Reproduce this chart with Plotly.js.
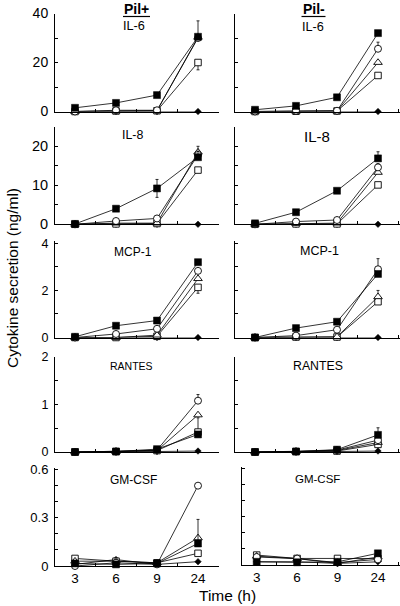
<!DOCTYPE html>
<html>
<head>
<meta charset="utf-8">
<script src="https://cdn.plot.ly/plotly-3.0.1.min.js"></script>
<style>html,body{margin:0;padding:0;background:#fff;}#chart{width:400px;height:606px;}</style>
</head>
<body>
<div id="chart"></div>
<script>
// ---------- DATA ----------
const times = ['3', '6', '9', '24'];
const columnLabels = ['Pil+', 'Pil-'];
const cytokines = ['IL-6', 'IL-8', 'MCP-1', 'RANTES', 'GM-CSF'];
const yTickStep = [20, 10, 2, 1, 0.3];
const yMinorStep = [10, 5, 1, 0.5, 0.1];
const yTop = [40, 25, 4.1, 2, 0.61];
const xTitle = 'Time (h)';
const yTitle = 'Cytokine secretion (ng/ml)';

// series: sq = filled square, ci = open circle, tr = open triangle, os = open square, di = filled diamond
// IL-6
const il6Plus_sq = [1.5, 3.5, 6.7, 30.5];
const il6Plus_ci = [0, 0.5, 0.5, 30];
const il6Plus_tr = [0, 0.2, 0.3, 30.3];
const il6Plus_os = [0, 0.2, 0.3, 20];
const il6Plus_di = [0, 0, 0, 0];
const il6Minus_sq = [0.7, 2.3, 5.8, 32];
const il6Minus_ci = [0, 0.3, 0.3, 25.6];
const il6Minus_tr = [0, 0.1, 0.2, 20];
const il6Minus_os = [0, 0.1, 0.2, 14.7];
const il6Minus_di = [0, 0, 0, 0];
// IL-8
const il8Plus_sq = [0.1, 4.0, 9.2, 17.2];
const il8Plus_ci = [0, 0.85, 1.5, 17.8];
const il8Plus_tr = [0, 0.3, 0.3, 18.5];
const il8Plus_os = [0, 0.1, 0.2, 13.9];
const il8Plus_di = [0, 0, 0, 0];
const il8Minus_sq = [0.25, 3.1, 8.6, 16.9];
const il8Minus_ci = [0, 0.7, 1.1, 14.6];
const il8Minus_tr = [0, 0.2, 0.3, 13.3];
const il8Minus_os = [0, 0.1, 0.1, 10.1];
const il8Minus_di = [0, 0, 0, 0];
// MCP-1
const mcpPlus_sq = [0.03, 0.5, 0.72, 3.2];
const mcpPlus_ci = [0, 0.15, 0.37, 2.83];
const mcpPlus_tr = [0, 0, 0.1, 2.5];
const mcpPlus_os = [0, 0, 0.05, 2.13];
const mcpPlus_di = [0, 0, 0, 0];
const mcpMinus_sq = [0, 0.4, 0.67, 2.7];
const mcpMinus_ci = [0, 0.08, 0.33, 2.9];
const mcpMinus_tr = [0, 0.02, 0.03, 1.73];
const mcpMinus_os = [0, 0.02, 0.02, 1.52];
const mcpMinus_di = [0, 0, 0, 0];
// RANTES
const rantesPlus_sq = [0, 0.01, 0.06, 0.37];
const rantesPlus_ci = [0, 0.01, 0.04, 1.08];
const rantesPlus_tr = [0, 0.01, 0.03, 0.78];
const rantesPlus_os = [0, 0.01, 0.03, 0.42];
const rantesPlus_di = [0, 0, 0.01, 0.02];
const rantesMinus_sq = [0, 0.01, 0.05, 0.36];
const rantesMinus_ci = [0, 0.01, 0.04, 0.25];
const rantesMinus_tr = [0, 0.01, 0.03, 0.2];
const rantesMinus_os = [0, 0.01, 0.02, 0.16];
const rantesMinus_di = [0, 0, 0.01, 0.02];
// GM-CSF
const gmPlus_sq = [0.016, 0.01, 0.016, 0.14];
const gmPlus_ci = [0, 0.02, 0.01, 0.5];
const gmPlus_tr = [0.03, 0.03, 0.02, 0.175];
const gmPlus_os = [0.047, 0.03, 0.02, 0.079];
const gmPlus_di = [0.01, 0.04, 0.01, 0.027];
const gmMinus_sq = [0.02, 0.017, 0.02, 0.073];
const gmMinus_ci = [0.05, 0.04, 0.015, 0.035];
const gmMinus_tr = [0.055, 0.04, 0.01, 0.05];
const gmMinus_os = [0.062, 0.041, 0.041, 0.04];
const gmMinus_di = [0.02, 0.02, 0.01, 0.02];

// error bars (upper, lower)
const il6Plus_sq_errUp = [0, 0, 0, 6.5];
const il6Plus_os_errDown = [0, 0, 0, 3];
const il6Minus_ci_errUp = [0, 0, 0, 2.7];
const il8Plus_sq_errUp = [0, 0, 2.3, 2.8];
const il8Plus_sq_errDown = [0, 0, 2.3, 0];
const il8Minus_sq_errUp = [0, 0, 0, 1.7];
const il8Minus_ci_errUp = [0, 0, 0, 1.0];
const mcpPlus_sq_errUp = [0, 0, 0, 0.1];
const mcpPlus_os_errDown = [0, 0, 0, 0.25];
const mcpMinus_ci_errUp = [0, 0, 0, 0.45];
const mcpMinus_tr_errUp = [0, 0, 0, 0.27];
const rantesPlus_ci_errUp = [0, 0, 0, 0.13];
const rantesPlus_os_errUp = [0, 0, 0, 0.3];
const rantesMinus_sq_errUp = [0, 0, 0, 0.15];
const gmPlus_sq_errUp = [0, 0, 0, 0.15];

// ---------- PANEL ASSEMBLY ----------
const panelSeries = [
  [[il6Plus_di, il6Plus_os, il6Plus_tr, il6Plus_ci, il6Plus_sq], [il6Minus_di, il6Minus_os, il6Minus_tr, il6Minus_ci, il6Minus_sq]],
  [[il8Plus_di, il8Plus_os, il8Plus_tr, il8Plus_ci, il8Plus_sq], [il8Minus_di, il8Minus_os, il8Minus_tr, il8Minus_ci, il8Minus_sq]],
  [[mcpPlus_di, mcpPlus_os, mcpPlus_tr, mcpPlus_ci, mcpPlus_sq], [mcpMinus_di, mcpMinus_os, mcpMinus_tr, mcpMinus_ci, mcpMinus_sq]],
  [[rantesPlus_di, rantesPlus_os, rantesPlus_tr, rantesPlus_ci, rantesPlus_sq], [rantesMinus_di, rantesMinus_os, rantesMinus_tr, rantesMinus_ci, rantesMinus_sq]],
  [[gmPlus_di, gmPlus_os, gmPlus_tr, gmPlus_ci, gmPlus_sq], [gmMinus_di, gmMinus_os, gmMinus_tr, gmMinus_ci, gmMinus_sq]]
];
// errors keyed by row-col-seriesIndex -> [up, down]
const panelErrors = {
  '0-0-4': [il6Plus_sq_errUp, null], '0-0-1': [null, il6Plus_os_errDown],
  '0-1-3': [il6Minus_ci_errUp, null],
  '1-0-4': [il8Plus_sq_errUp, il8Plus_sq_errDown],
  '1-1-4': [il8Minus_sq_errUp, null], '1-1-3': [il8Minus_ci_errUp, null],
  '2-0-4': [mcpPlus_sq_errUp, null], '2-0-1': [null, mcpPlus_os_errDown],
  '2-1-3': [mcpMinus_ci_errUp, null], '2-1-2': [mcpMinus_tr_errUp, null],
  '3-0-3': [rantesPlus_ci_errUp, null], '3-0-1': [rantesPlus_os_errUp, null],
  '3-1-4': [rantesMinus_sq_errUp, null],
  '4-0-4': [gmPlus_sq_errUp, null]
};

const W = 400, H = 606;
const FONT = 'Arial, "Liberation Sans", Helvetica, sans-serif';
const markerStyles = [
  {symbol: 'diamond', size: 5, color: '#000', line: {color: '#000', width: 0.5}},
  {symbol: 'square', size: 6.5, color: '#fff', line: {color: '#000', width: 0.9}},
  {symbol: 'triangle-up', size: 7.5, color: '#fff', line: {color: '#000', width: 0.9}},
  {symbol: 'circle', size: 7, color: '#fff', line: {color: '#000', width: 0.9}},
  {symbol: 'square', size: 7, color: '#000', line: {color: '#000', width: 0.5}}
];
// pixel geometry of each row: [px of zero, px of top]
const rowPx = [[111.5, 13.5], [224.3, 126.8], [337.5, 241], [452, 357], [566, 468]];
const rowPxRight4 = [565, 466.7];
const colPx = [[55, 219], [235, 400]];
const yTickFont = [14, 14.5, 12.5, 12.5, 13];
const titleFont = [[12.7, 12.7], [12.4, 15], [12, 12.5], [10.5, 12.3], [12, 11.5]];
const titlePos = [[[134, 26], [313, 27]], [[132, 135], [317, 136]], [[133, 252], [319, 251]], [[131, 366], [318, 366]], [[133, 480], [317, 479]]];

const traces = [];
const layout = {
  width: W, height: H,
  margin: {l: 0, r: 0, t: 0, b: 0},
  paper_bgcolor: '#fff', plot_bgcolor: 'rgba(0,0,0,0)',
  showlegend: false,
  font: {family: FONT, color: '#000'},
  annotations: [], shapes: []
};

for (let r = 0; r < 5; r++) {
  for (let c = 0; c < 2; c++) {
    const idx = r * 2 + c + 1;
    const xa = 'x' + (idx === 1 ? '' : idx), ya = 'y' + (idx === 1 ? '' : idx);
    const xKey = 'xaxis' + (idx === 1 ? '' : idx), yKey = 'yaxis' + (idx === 1 ? '' : idx);
    let px = colPx[c].slice();
    let vy = rowPx[r];
    if (r === 4 && c === 1) { px = [242, 400]; vy = rowPxRight4; }
    const firstCat = c === 0 ? 75 : (r === 4 ? 256.7 : 255);
    const spacing = (r === 4 && c === 1) ? 40.4 : 41;
    const xr = [(px[0] - firstCat) / spacing, (px[1] - firstCat) / spacing];
    layout[xKey] = {
      domain: [px[0] / W, px[1] / W], anchor: ya, type: 'category',
      range: xr, showline: true, linecolor: '#000', linewidth: 1,
      ticks: 'inside', tickson: 'boundaries', ticklen: 3, tickcolor: '#000', tickwidth: 1,
      showticklabels: r === 4, tickfont: {size: 13.5, family: FONT, color: '#000'},
      showgrid: false, zeroline: false, fixedrange: true
    };
    const topVal = (r === 4 && c === 1) ? 0.614 : yTop[r];
    layout[yKey] = {
      domain: [1 - vy[0] / H, 1 - vy[1] / H], anchor: xa,
      range: [0, topVal], showline: true, linecolor: '#000', linewidth: 1,
      tickmode: 'linear', tick0: 0, dtick: c === 0 ? yTickStep[r] : yMinorStep[r],
      ticks: 'inside', ticklen: 3, tickcolor: '#000', tickwidth: 1,
      minor: c === 0 ? {dtick: yMinorStep[r], tick0: 0, ticks: 'inside', ticklen: 3, tickcolor: '#000'} : undefined,
      showticklabels: c === 0, tickfont: {size: yTickFont[r], family: FONT, color: '#000'},
      ticklabelstandoff: 3,
      showgrid: false, zeroline: false, fixedrange: true
    };
    const series = panelSeries[r][c];
    series.forEach((vals, si) => {
      const t = {
        x: times, y: vals, xaxis: xa, yaxis: ya, type: 'scatter', mode: 'lines+markers',
        line: {color: '#000', width: 0.8}, marker: markerStyles[si], cliponaxis: false,
        hoverinfo: 'skip'
      };
      const e = panelErrors[r + '-' + c + '-' + si];
      if (e) {
        t.error_y = {
          type: 'data', symmetric: false,
          array: e[0] || [0, 0, 0, 0], arrayminus: e[1] || [0, 0, 0, 0],
          color: '#000', thickness: 0.8, width: 1.5
        };
      }
      traces.push(t);
    });
    layout.annotations.push({
      text: cytokines[r], xref: 'paper', yref: 'paper',
      x: titlePos[r][c][0] / W, y: 1 - titlePos[r][c][1] / H,
      xanchor: 'center', yanchor: 'middle', showarrow: false,
      font: {size: titleFont[r][c], family: FONT, color: '#000'}
    });
  }
}

// column headers with underline
const headerPos = [[136.5, 9, 123, 150], [313.5, 9, 301.5, 325.5]];
columnLabels.forEach((lab, c) => {
  layout.annotations.push({
    text: '<b>' + lab + '</b>', xref: 'paper', yref: 'paper',
    x: headerPos[c][0] / W, y: 1 - headerPos[c][1] / H, xanchor: 'center', yanchor: 'middle',
    showarrow: false, font: {size: 14, family: FONT, color: '#000'}
  });
  layout.shapes.push({
    type: 'line', xref: 'paper', yref: 'paper',
    x0: headerPos[c][2] / W, x1: headerPos[c][3] / W, y0: 1 - 16.5 / H, y1: 1 - 16.5 / H,
    line: {color: '#000', width: 1.2}
  });
});

layout.annotations.push({
  text: xTitle, xref: 'paper', yref: 'paper', x: 227 / W, y: 1 - 595 / H,
  xanchor: 'center', yanchor: 'middle', showarrow: false,
  font: {size: 15.5, family: FONT, color: '#000'}
});
layout.annotations.push({
  text: yTitle, xref: 'paper', yref: 'paper', x: 12 / W, y: 1 - 278 / H,
  xanchor: 'center', yanchor: 'middle', showarrow: false, textangle: -90,
  font: {size: 15.5, family: FONT, color: '#000'}
});

Plotly.newPlot('chart', traces, layout, {staticPlot: true, displayModeBar: false});
</script>
</body>
</html>
